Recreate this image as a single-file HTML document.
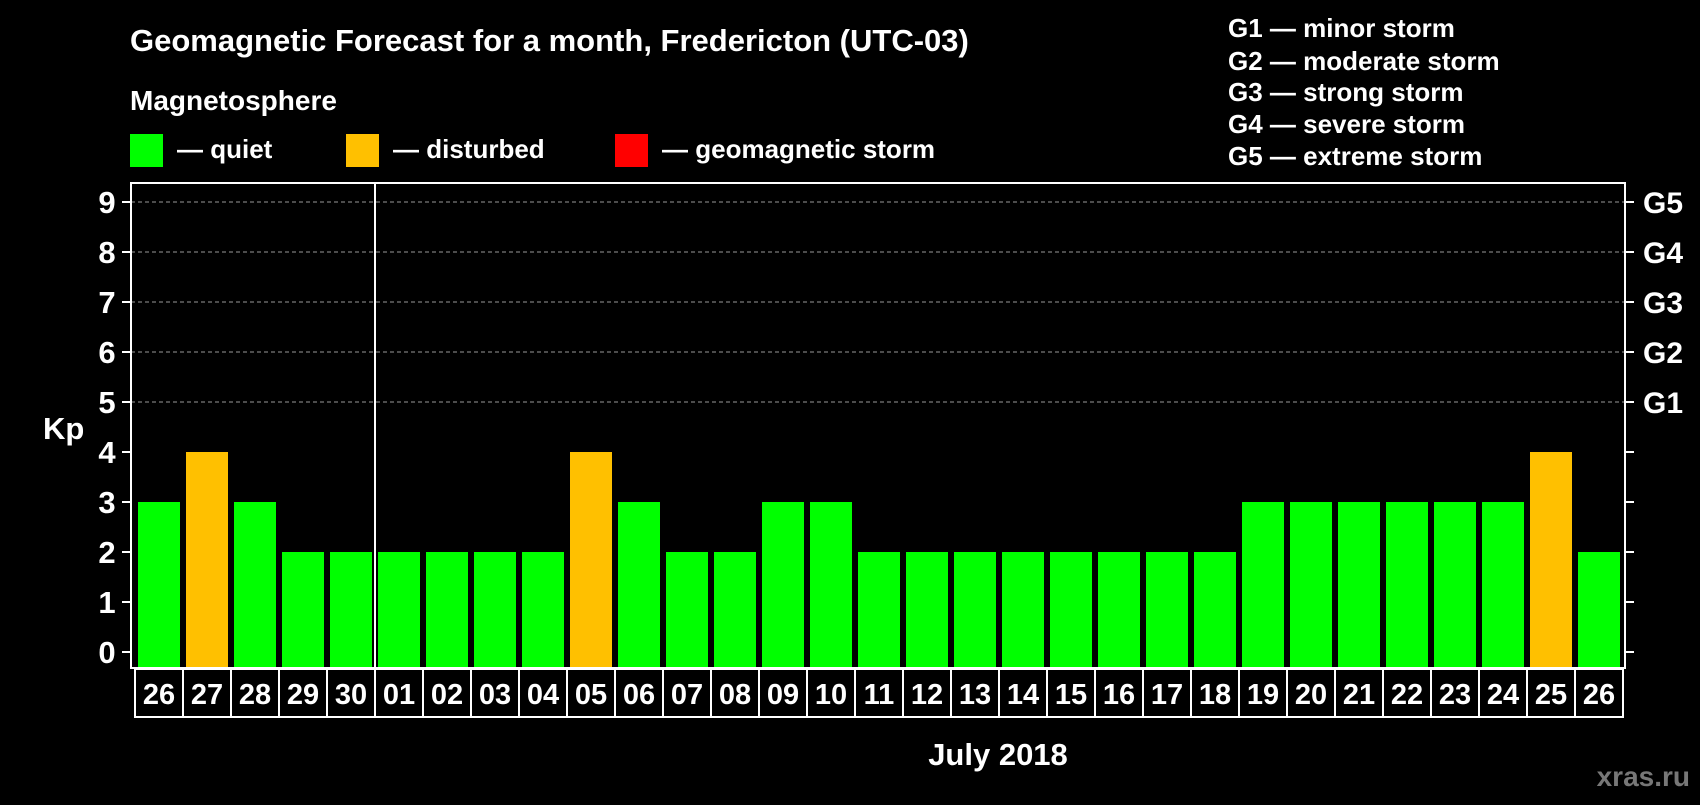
<!DOCTYPE html>
<html><head><meta charset="utf-8"><style>
body{margin:0;background:#000;width:1700px;height:800px;overflow:hidden;font-family:"Liberation Sans",sans-serif;font-weight:bold;color:#fff}
</style></head><body>
<svg id="c" width="1700" height="800" xmlns="http://www.w3.org/2000/svg" font-family="Liberation Sans, sans-serif" font-weight="bold">
<text x="130" y="51" font-size="31" fill="#fff">Geomagnetic Forecast for a month, Fredericton (UTC-03)</text>
<text x="130" y="110" font-size="28" fill="#fff">Magnetosphere</text>
<rect x="130" y="134" width="33" height="33" fill="#00ff00"/>
<text x="177" y="158" font-size="26" fill="#fff">— quiet</text>
<rect x="346" y="134" width="33" height="33" fill="#ffc000"/>
<text x="393" y="158" font-size="26" fill="#fff">— disturbed</text>
<rect x="615" y="134" width="33" height="33" fill="#ff0000"/>
<text x="662" y="158" font-size="26" fill="#fff">— geomagnetic storm</text>
<g font-size="26" fill="#fff">
<text x="1228" y="37">G1 — minor storm</text>
<text x="1228" y="70">G2 — moderate storm</text>
<text x="1228" y="101">G3 — strong storm</text>
<text x="1228" y="133">G4 — severe storm</text>
<text x="1228" y="165">G5 — extreme storm</text>
</g>
<text x="43" y="439" font-size="31" fill="#fff">Kp</text>
<text x="998" y="765" font-size="31" fill="#fff" text-anchor="middle">July 2018</text>
<text x="1690" y="786" font-size="28" fill="#777" text-anchor="end">xras.ru</text>
<g id="plot"></g>
</svg>
<script>
const days=["26","27","28","29","30","01","02","03","04","05","06","07","08","09","10","11","12","13","14","15","16","17","18","19","20","21","22","23","24","25","26"];
const kp=[3,4,3,2,2,2,2,2,2,4,3,2,2,3,3,2,2,2,2,2,2,2,2,3,3,3,3,3,3,4,2];
const yTicks=[0,1,2,3,4,5,6,7,8,9];
const gLabels=["G1","G2","G3","G4","G5"];
const NS="http://www.w3.org/2000/svg";
const g=document.getElementById('plot');
const L=131,R=1625,T=183,B=668,X0=135,P=48;
const y=v=>652-v*50;
const x=i=>X0+i*P;
function mk(t,a,p){const e=document.createElementNS(NS,t);for(const k in a)e.setAttribute(k,a[k]);(p||g).appendChild(e);return e;}
yTicks.forEach(v=>{
  if(v>=5){const l=mk('line',{x1:L,x2:R,y1:y(v),y2:y(v),stroke:'#999','stroke-dasharray':'4,3','stroke-width':1});
  
  }
  const t1=mk('line',{x1:L-9,x2:L,y1:y(v),y2:y(v),stroke:'#fff','stroke-width':2});
  
  
  const t2=mk('line',{x1:R,x2:R+9,y1:y(v),y2:y(v),stroke:'#fff','stroke-width':2});
  
  
  const tx=mk('text',{x:107,y:y(v)+11,'font-size':31,fill:'#fff','text-anchor':'middle'});
  tx.textContent=v;
  
  
  if(v>=5){const gt=mk('text',{x:1643,y:y(v)+11,'font-size':30,fill:'#fff'});
  gt.textContent=gLabels[v-5];
  
  }
});
kp.forEach((v,i)=>{
  const r=mk('rect',{x:x(i)+3,y:y(v),width:42,height:B-y(v)-1,fill:v>=5?'#ff0000':(v>=4?'#ffc000':'#00ff00')});
  
  
  const c=mk('rect',{x:x(i),y:B+1,width:P,height:48,fill:'none',stroke:'#fff','stroke-width':2});
  
  
  const t=mk('text',{x:x(i)+P/2,y:B+36,'font-size':29,fill:'#fff','text-anchor':'middle'});
  t.textContent=days[i];
  
  
});
const f=mk('rect',{x:L,y:T,width:R-L,height:B-T,fill:'none',stroke:'#fff','stroke-width':2});


const d=mk('line',{x1:x(5),x2:x(5),y1:T,y2:B,stroke:'#fff','stroke-width':2});


</script>
</body></html>
